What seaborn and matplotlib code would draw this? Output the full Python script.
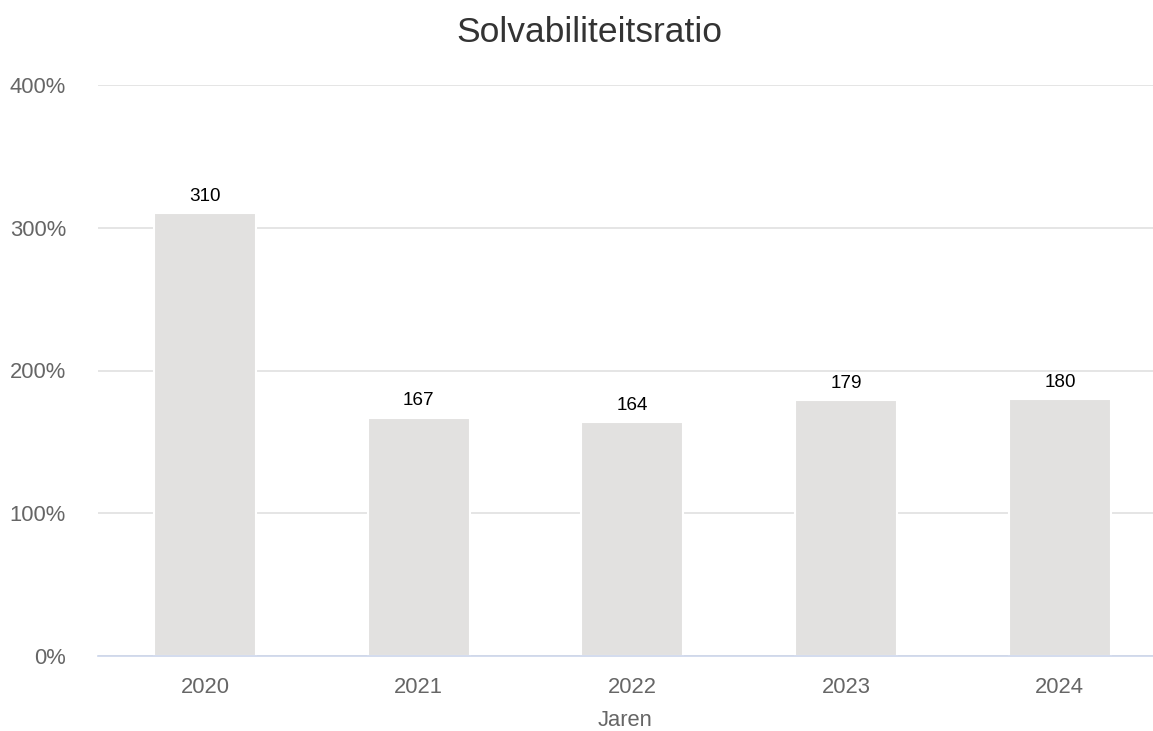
import matplotlib
matplotlib.use("Agg")
import matplotlib.pyplot as plt
import seaborn as sns
import pandas as pd

years = ["2020", "2021", "2022", "2023", "2024"]
values = [310, 167, 164, 179, 180]
yticks = [0, 100, 200, 300, 400]
ytick_labels = ["0%", "100%", "200%", "300%", "400%"]

sns.set_theme(style="white")
plt.rcParams["font.family"] = ["Liberation Sans", "DejaVu Sans"]

W, H = 1153, 731
fig = plt.figure(figsize=(W / 100, H / 100), dpi=100)
left, right = 98, 1153
top, bottom = 85, 656
ax = fig.add_axes([left / W, 1 - bottom / H, (right - left) / W, (bottom - top) / H])

df = pd.DataFrame({"Jaren": years, "Waarde": values})
sns.barplot(data=df, x="Jaren", y="Waarde", color="#e2e1e0", saturation=1,
            width=0.477, edgecolor="white", linewidth=1.5, ax=ax, zorder=3)

step = 213.75
ax.set_xlim(-0.5, -0.5 + (right - left) / step)
ax.set_ylim(0, 400)
ax.set_yticks(yticks)
ax.set_yticklabels(ytick_labels)
ax.yaxis.grid(True, color="#e3e3e3", linewidth=1.3, zorder=0)
ax.set_axisbelow(True)
for s in ["top", "right", "left"]:
    ax.spines[s].set_visible(False)
ax.spines["bottom"].set_color("#ccd6eb")
ax.spines["bottom"].set_linewidth(1.2)
ax.spines["bottom"].set_zorder(4)
ax.tick_params(axis="both", length=0, labelsize=15.8, colors="#666666")
ax.tick_params(axis="y", pad=23)
ax.tick_params(axis="x", pad=15)
ax.set_xlabel("Jaren", fontsize=15.8, color="#666666", labelpad=9)
ax.set_ylabel("")

for c in ax.containers:
    ax.bar_label(c, labels=[str(v) for v in values], padding=6, fontsize=13.6, color="black")

fig.text(589 / W, 1 - 33 / H, "Solvabiliteitsratio", fontsize=25.5, color="#333333",
         ha="center", va="center")

fig.savefig("out.png", dpi=100)
